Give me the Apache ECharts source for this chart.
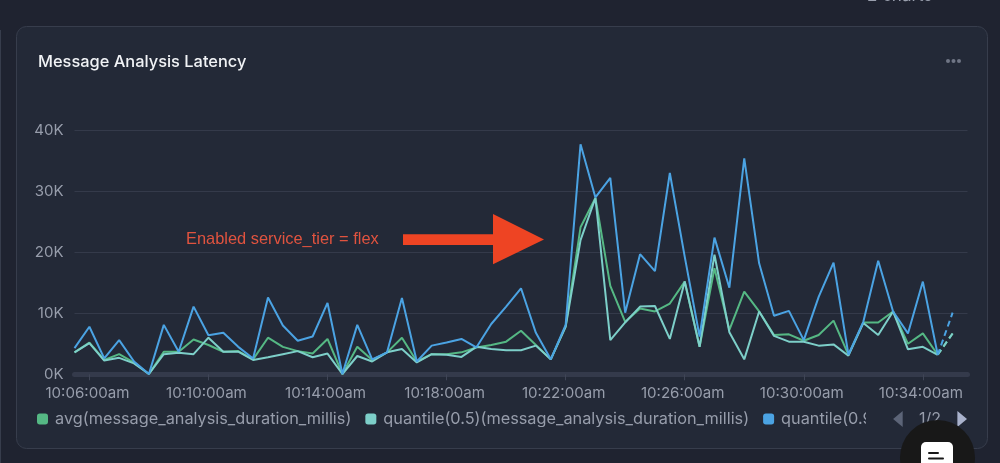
<!DOCTYPE html>
<html>
<head>
<meta charset="utf-8">
<style>html,body{margin:0;padding:0;background:#1f2330;overflow:hidden}#c{width:1000px;height:463px}</style>
<script src="https://cdn.jsdelivr.net/npm/echarts@6/dist/echarts.min.js"></script>
</head>
<body>
<div id="c"></div>
<script>
const categories = ['10:05:30am','10:06:00am','10:06:30am','10:07:00am','10:07:30am','10:08:00am','10:08:30am','10:09:00am','10:09:30am','10:10:00am',
'10:10:30am','10:11:00am','10:11:30am','10:12:00am','10:12:30am','10:13:00am','10:13:30am','10:14:00am','10:14:30am','10:15:00am',
'10:15:30am','10:16:00am','10:16:30am','10:17:00am','10:17:30am','10:18:00am','10:18:30am','10:19:00am','10:19:30am','10:20:00am',
'10:20:30am','10:21:00am','10:21:30am','10:22:00am','10:22:30am','10:23:00am','10:23:30am','10:24:00am','10:24:30am','10:25:00am',
'10:25:30am','10:26:00am','10:26:30am','10:27:00am','10:27:30am','10:28:00am','10:28:30am','10:29:00am','10:29:30am','10:30:00am',
'10:30:30am','10:31:00am','10:31:30am','10:32:00am','10:32:30am','10:33:00am','10:33:30am','10:34:00am','10:34:30am','10:35:00am','10:35:30am'];
const avgValues = [3600,5200,2350,3300,1900,50,3700,3700,5700,4800,3700,3800,2450,6000,4500,3800,3400,5800,50,4500,
2350,3600,6000,2100,3300,3300,3600,4400,4800,5350,7150,4800,2450,7900,24100,28900,14500,8600,10800,10300,
11600,15200,4500,17400,7300,13550,10300,6450,6550,5500,6450,8800,3200,8500,8500,10300,5000,6700,3200,6700];
const medianValues = [3600,5100,2250,2700,1800,50,3300,3550,3300,6000,3700,3700,2350,2800,3300,3800,2800,3400,50,3000,
2100,3600,4150,1950,3300,3200,2850,4500,4150,3950,3950,4700,2450,7800,22000,28900,5600,8500,11100,11200,
5800,15200,4500,19600,6900,2450,10300,6300,5350,5350,4700,4900,3050,8400,6450,10300,4100,4500,3200,6700];
const p95Values = [4300,7800,2600,5600,2100,50,8100,3700,11100,6400,6800,4500,2600,12600,8000,5500,6200,11700,50,8100,
2450,3600,12500,2100,4700,5200,5800,4400,8250,11100,14100,6800,2450,8100,37700,29000,32200,10100,19700,16900,
33000,19300,6200,22400,14200,35400,18200,9600,10400,5600,12700,18300,3200,8600,18600,10300,6700,15200,3200,10100];
const yTicks = [0,10000,20000,30000,40000];
const seriesNames = ['avg(message_analysis_duration_millis)','quantile(0.5)(message_analysis_duration_millis)','quantile(0.95)(message_analysis_duration_millis)'];
const seriesColors = ['#55b884','#7dcfc9','#4ba3e3'];
const seriesValues = [avgValues, medianValues, p95Values];
const partialFrom = 58;

const solid = (v) => v.map((x,i) => i <= partialFrom ? x : null);
const dashed = (v) => v.map((x,i) => i >= partialFrom ? x : null);

const series = [];
seriesValues.forEach((v,i) => {
  series.push({name:seriesNames[i],type:'line',data:solid(v),showSymbol:false,symbol:'none',smooth:false,
    itemStyle:{color:seriesColors[i],borderRadius:2},lineStyle:{color:seriesColors[i],width:2},z:3+i});
});
seriesValues.forEach((v,i) => {
  series.push({name:seriesNames[i]+' (partial)',type:'line',data:dashed(v),showSymbol:false,symbol:'none',
    lineStyle:{color:seriesColors[i],width:2,type:[6,4]},z:3+i});
});

const chart = echarts.init(document.getElementById('c'),null,{renderer:'canvas'});
const tickAt = (i) => (i-1)%8===0;
const font = 'Inter, "Noto Sans", sans-serif';
chart.setOption({
  animation:false,
  backgroundColor:'#1f2330',
  title:{text:'Message Analysis Latency',left:38,top:54,padding:0,textStyle:{color:'#f1f3f6',fontFamily:font,fontSize:16.4,fontWeight:500}},
  grid:{left:74.5,right:32.5,top:130.3,bottom:88.7,containLabel:false},
  xAxis:{type:'category',boundaryGap:false,data:categories,
    axisLine:{show:true,onZero:false,lineStyle:{color:'#343a4b',width:5}},
    axisTick:{show:true,interval:tickAt,length:6,lineStyle:{color:'#3f4556',width:1}},
    axisLabel:{show:true,interval:tickAt,color:'#979dab',fontFamily:font,fontSize:15.1,margin:12,padding:[0,4,0,0]},
    splitLine:{show:false}},
  yAxis:{type:'value',min:yTicks[0],max:yTicks[4],interval:10000,
    axisLine:{show:false},axisTick:{show:false},
    axisLabel:{color:'#979dab',fontFamily:font,fontSize:15,margin:11,formatter:(v)=>v/1000+'K'},
    splitLine:{lineStyle:{color:'#343a4a',width:1}}},
  legend:{type:'scroll',orient:'horizontal',left:37,top:411,width:930,data:seriesNames,
    icon:'roundRect',itemWidth:11,itemHeight:11,itemGap:14,
    textStyle:{color:'#979dab',fontFamily:font,fontSize:16.3,padding:[0,0,0,2]},
    padding:0,pageButtonPosition:'end',pageButtonGap:27,pageButtonItemGap:7,pageIconSize:[11,16],
    pageIconColor:'#a9b2cc',pageIconInactiveColor:'#5c6477',
    pageTextStyle:{color:'#979dab',fontFamily:font,fontSize:16},pageFormatter:'{current}/{total}'},
  series,
  graphic:[
    {type:'rect',silent:true,z:-10,shape:{x:16.5,y:26.5,width:971,height:422,r:10},style:{fill:'#232937',stroke:'#373d4c',lineWidth:1}},
    {type:'rect',silent:true,z:-10,shape:{x:0,y:30,width:1,height:433},style:{fill:'#373d4c'}},
    {type:'text',silent:true,x:867,y:-13,style:{text:'2 charts',fill:'#9aa0ae',fontFamily:font,fontSize:17}},
    {type:'circle',silent:true,shape:{cx:948,cy:61,r:2},style:{fill:'#6f7585'}},
    {type:'circle',silent:true,shape:{cx:953.5,cy:61,r:2},style:{fill:'#6f7585'}},
    {type:'circle',silent:true,shape:{cx:959,cy:61,r:2},style:{fill:'#6f7585'}},
    {type:'text',silent:true,x:186,y:231.5,style:{text:'Enabled service_tier = flex',fill:'#e0533f',fontFamily:'"Liberation Sans", Arial, sans-serif',fontSize:16.4}},
    {type:'polygon',silent:true,z:50,shape:{points:[[403,234.3],[493,234.3],[493,214],[544,239.5],[493,264.3],[493,245],[403,245]]},style:{fill:'#ee4423'}},
    {type:'circle',silent:true,z:60,shape:{cx:937.5,cy:457.5,r:37.5},style:{fill:'#181818'}},
    {type:'rect',silent:true,z:61,shape:{x:921,y:442,width:32,height:30,r:5},style:{fill:'#ffffff'}},
    {type:'rect',silent:true,z:62,shape:{x:928,y:452,width:11,height:2,r:1},style:{fill:'#181818'}},
    {type:'rect',silent:true,z:62,shape:{x:928,y:457.5,width:16,height:2,r:1},style:{fill:'#181818'}}
  ]
});
</script>
</body>
</html>
